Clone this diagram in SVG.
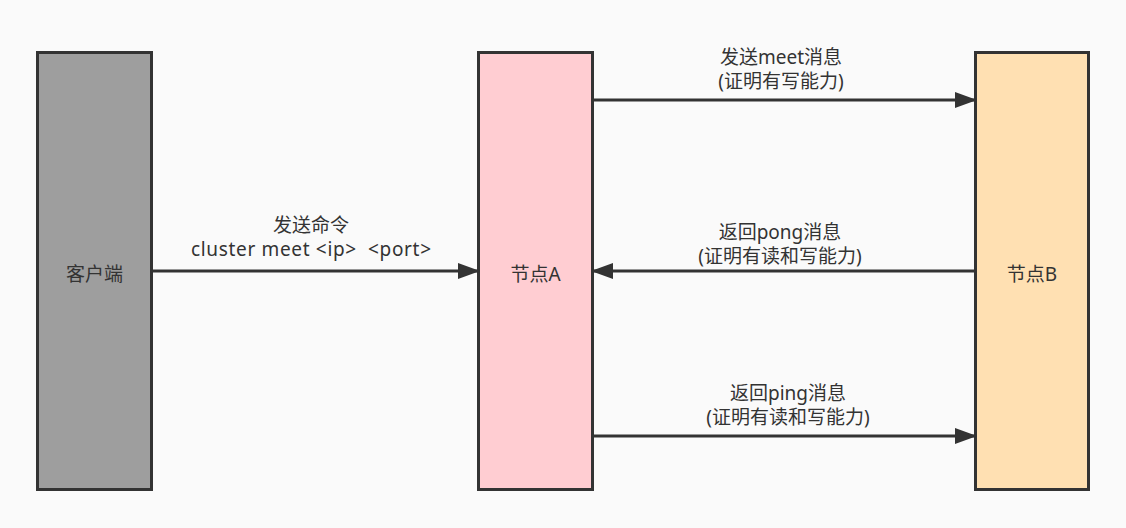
<svg xmlns="http://www.w3.org/2000/svg" width="1126" height="528" viewBox="0 0 1126 528">
<style>
.box{stroke:#333333;stroke-width:3}
.lbl{font-family:"Noto Sans","Noto Sans CJK SC",sans-serif;font-size:19px;fill:#333333;text-anchor:middle}
.edge{stroke:#333333;stroke-width:3;fill:none}
</style>
<defs>
<marker id="arr" viewBox="0 0 22 16" refX="21" refY="8" markerWidth="22" markerHeight="16" markerUnits="userSpaceOnUse" orient="auto">
<path d="M0,0 L22,8 L0,16 Z" fill="#333333"/>
</marker>
</defs>
<rect width="1126" height="528" fill="#fafafa"/>
<g id="client">
<rect class="box" x="37.5" y="52.5" width="114" height="437" fill="#9e9e9e"/>
<text class="lbl" x="94.5" y="281">客户端</text>
</g>
<g id="nodeA">
<rect class="box" x="478.5" y="52.5" width="114" height="437" fill="#ffcdd2"/>
<text class="lbl" x="535.5" y="281">节点A</text>
</g>
<g id="nodeB">
<rect class="box" x="975.5" y="52.5" width="113" height="437" fill="#ffe0b2"/>
<text class="lbl" x="1032" y="281">节点B</text>
</g>
<g id="connectors">
<line class="edge" x1="153" y1="271" x2="479" y2="271" marker-end="url(#arr)"/>
<line class="edge" x1="594" y1="100" x2="976" y2="100" marker-end="url(#arr)"/>
<line class="edge" x1="974" y1="271" x2="592" y2="271" marker-end="url(#arr)"/>
<line class="edge" x1="594" y1="436" x2="976" y2="436" marker-end="url(#arr)"/>
</g>
<g id="edge-labels">
<text class="lbl" x="311" y="232">发送命令</text>
<text class="lbl" x="311" y="256" textLength="240">cluster meet &lt;ip&gt;&#160; &lt;port&gt;</text>
<text class="lbl" x="781" y="64">发送meet消息</text>
<text class="lbl" x="781" y="88">(证明有写能力)</text>
<text class="lbl" x="780" y="239">返回pong消息</text>
<text class="lbl" x="780" y="263">(证明有读和写能力)</text>
<text class="lbl" x="788" y="400">返回ping消息</text>
<text class="lbl" x="788" y="424">(证明有读和写能力)</text>
</g>
</svg>
